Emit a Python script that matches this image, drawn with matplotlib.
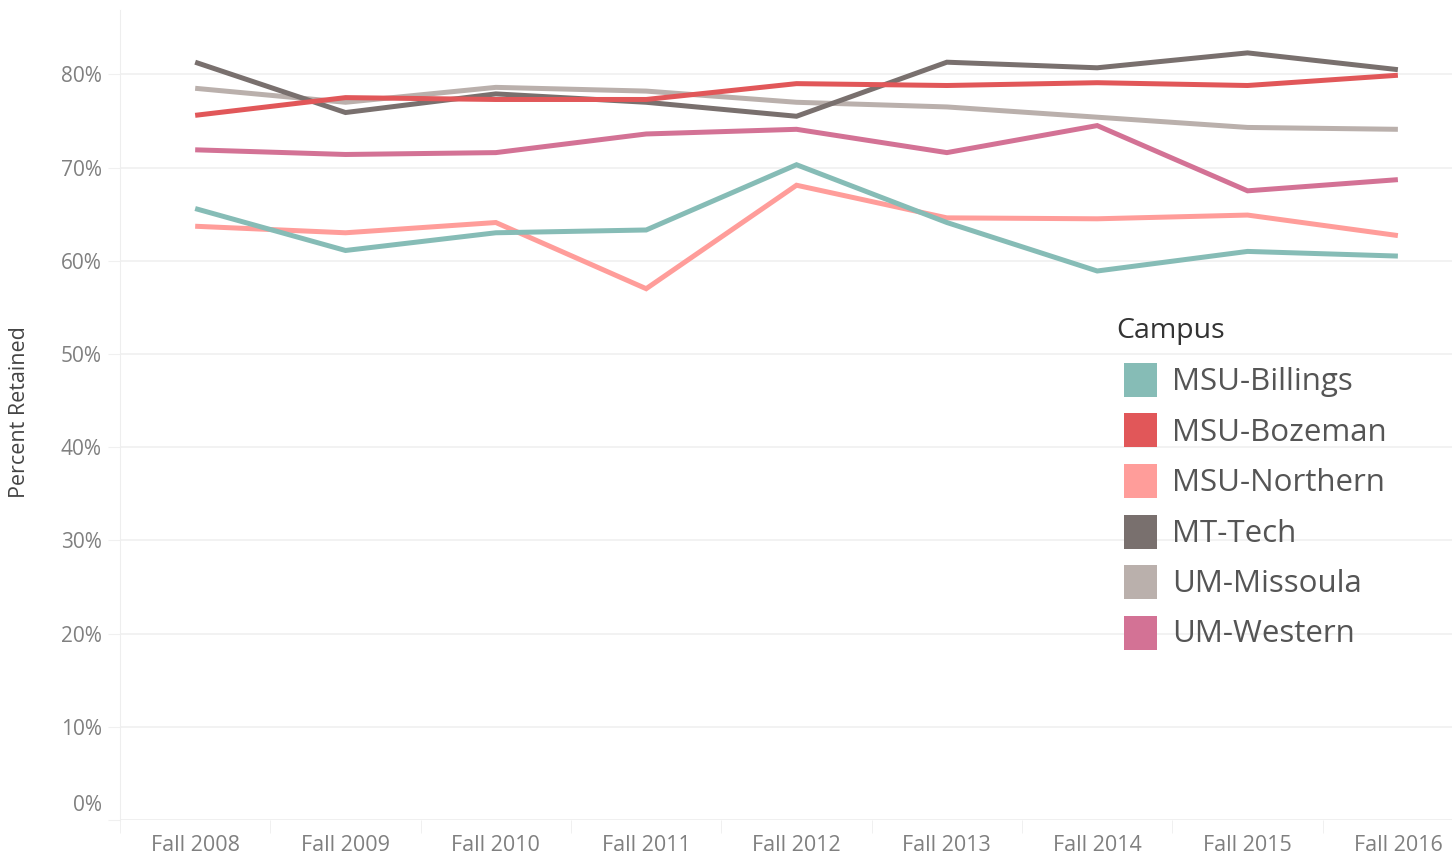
import matplotlib.pyplot as plt
from matplotlib.patches import Rectangle
import matplotlib.transforms as mtransforms

terms = ['Fall 2008', 'Fall 2009', 'Fall 2010', 'Fall 2011', 'Fall 2012',
         'Fall 2013', 'Fall 2014', 'Fall 2015', 'Fall 2016']

campuses = ['MSU-Billings', 'MSU-Bozeman', 'MSU-Northern', 'MT-Tech', 'UM-Missoula', 'UM-Western']
colors = ['#86BCB6', '#E15759', '#FF9D9A', '#79706E', '#BAB0AC', '#D37295']

msu_billings = [65.6, 61.1, 63.0, 63.3, 70.3, 64.1, 58.9, 61.0, 60.5]
msu_bozeman = [75.6, 77.5, 77.3, 77.3, 79.0, 78.8, 79.1, 78.8, 79.9]
msu_northern = [63.7, 63.0, 64.1, 57.0, 68.1, 64.6, 64.5, 64.9, 62.7]
mt_tech = [81.3, 75.9, 77.9, 77.0, 75.5, 81.3, 80.7, 82.3, 80.5]
um_missoula = [78.5, 77.0, 78.6, 78.2, 77.0, 76.5, 75.4, 74.3, 74.1]
um_western = [71.9, 71.4, 71.6, 73.6, 74.1, 71.6, 74.5, 67.5, 68.7]

series = [msu_billings, msu_bozeman, msu_northern, mt_tech, um_missoula, um_western]

plt.rcParams['font.family'] = ['Open Sans', 'DejaVu Sans']

fig = plt.figure(figsize=(14.52, 8.55), dpi=100)
ax = fig.add_axes([120 / 1452, 35 / 855, 1 - 120 / 1452, 810 / 855])

x = list(range(len(terms)))
draw_order = [4, 3, 1, 5, 2, 0]
for i in draw_order:
    ax.plot(x, series[i], color=colors[i], lw=3.6, solid_capstyle='butt', solid_joinstyle='miter', zorder=3)

yt = list(range(0, 90, 10))
ax.set_yticks(yt)
ax.set_yticklabels([f'{v}%' for v in yt])
ax.set_xticks(x)
ax.set_xticklabels(terms)
ax.set_xticks([i + 0.5 for i in range(-1, len(terms) - 1)], minor=True)
ax.set_xlim(-0.5, 8.36)
ax.set_ylim(0, 86.9)

ax.grid(axis='y', color='#F0F0F0', lw=1.2, zorder=0)
for s in ['top', 'right', 'bottom']:
    ax.spines[s].set_visible(False)
ax.spines['left'].set_color('#EEEEEE')
ax.axhline(0, color='#EEEEEE', lw=1.2, zorder=1)

ax.tick_params(axis='y', length=9, color='#F0F0F0', labelsize=15, labelcolor='#808080', pad=4)
ax.tick_params(axis='x', which='major', length=0, labelsize=15.5, labelcolor='#808080', pad=11)
ax.tick_params(axis='x', which='minor', length=9, color='#EEEEEE')

# Tableau nudges the bottom label up
lab0 = ax.get_yticklabels()[0]
lab0.set_transform(lab0.get_transform() + mtransforms.ScaledTranslation(0, 17 / 100, fig.dpi_scale_trans))

fig.text(20 / 1452, 1 - 412 / 855, 'Percent Retained', rotation=90, ha='center', va='center',
         fontsize=15.5, color='#444444')

# legend
fig.text(1116 / 1452, 1 - 331 / 855, 'Campus', ha='left', va='center', fontsize=20.5, color='#333333')
for k, (name, c) in enumerate(zip(campuses, colors)):
    yc = 380 + k * 50.5
    fig.add_artist(Rectangle((1124 / 1452, 1 - (yc + 17) / 855), 33 / 1452, 34 / 855,
                             transform=fig.transFigure, facecolor=c, edgecolor='none'))
    fig.text(1172 / 1452, 1 - (yc + 2) / 855, name, ha='left', va='center', fontsize=22.5,
             color='#555555')

fig.savefig('out.png', dpi=100, facecolor='white')
